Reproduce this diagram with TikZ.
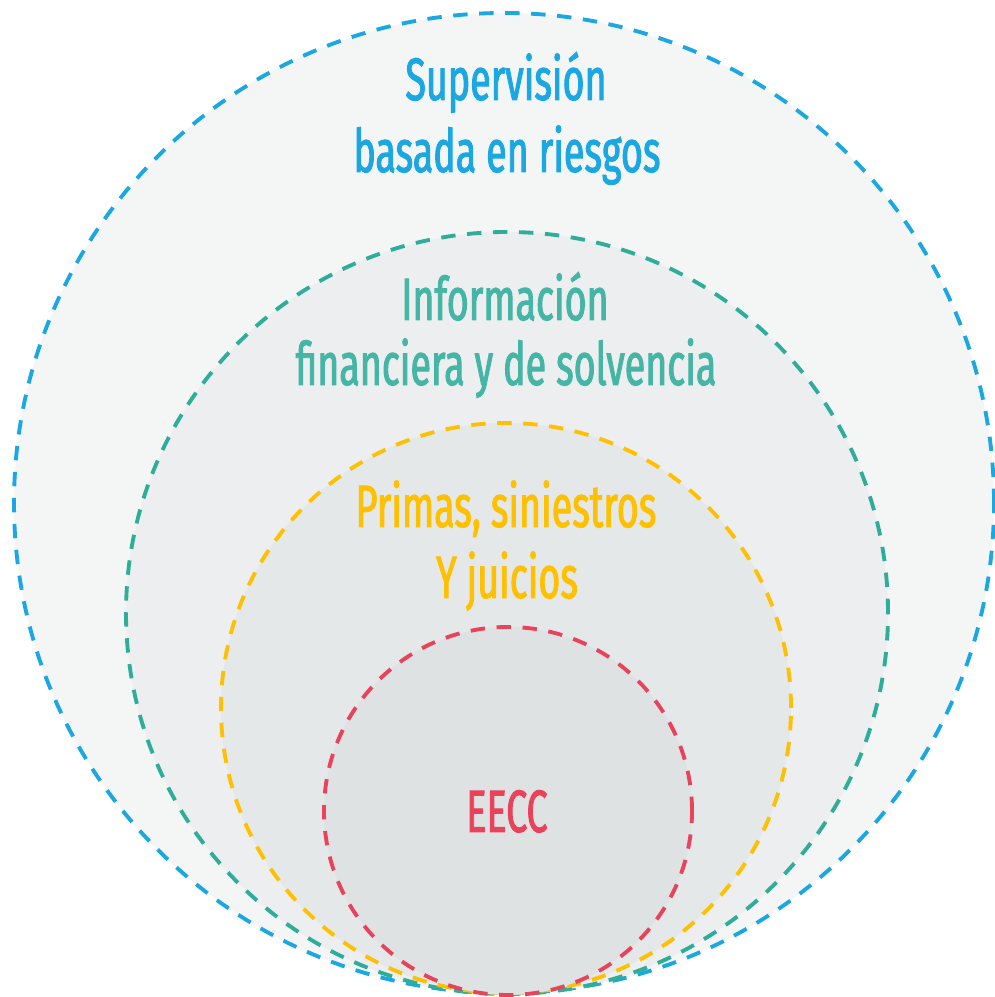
\documentclass[tikz,border=0pt]{standalone}
\usepackage{fontspec}
\newfontfamily\lblfont[FakeStretch=0.63,FakeBold=1.6]{Fira Sans}
\usetikzlibrary{positioning}
\definecolor{supblue}{HTML}{1AA7E2}
\definecolor{infgreen}{HTML}{2EAD98}
\definecolor{infgreentxt}{HTML}{45B5A5}
\definecolor{primyellow}{HTML}{FFC000}
\definecolor{eeccred}{HTML}{E8435A}
\definecolor{fillA}{HTML}{F4F6F6}
\definecolor{fillB}{HTML}{ECEEEF}
\definecolor{fillC}{HTML}{E5E8E9}
\definecolor{fillD}{HTML}{DFE2E3}
\tikzstyle{every node}=[font=\lblfont\fontsize{17}{20}\selectfont,inner sep=0pt]
\tikzstyle{ring}=[line width=1.1pt,dash pattern=on 4.1pt off 3.3pt]
\tikzstyle{lbl}=[anchor=base]

\begin{document}
\begin{tikzpicture}
  \useasboundingbox (0,0) rectangle (9.94,9.97);
  \filldraw[ring,fill=fillA,draw=supblue] (5.04,4.94) circle(4.90);
  \filldraw[ring,fill=fillB,draw=infgreen] (5.07,3.84) circle(3.81);
  \filldraw[ring,fill=fillC,draw=primyellow] (5.06,2.89) circle(2.85);
  \filldraw[ring,fill=fillD,draw=eeccred] (5.08,1.86) circle(1.84);
  % labels
  \node[lbl,text=supblue] (sup1) at (5.06,8.97) {Supervisión};
  \node[lbl,text=supblue] (sup2) at (5.07,8.25) {basada en riesgos};
  \node[lbl,text=infgreentxt] (inf1) at (5.05,6.77) {Información};
  \node[lbl,text=infgreentxt] (inf2) at (5.06,6.12) {financiera y de solvencia};
  \node[lbl,text=primyellow] (prim1) at (5.06,4.70) {Primas, siniestros};
  \node[lbl,text=primyellow] (prim2) at (5.07,3.99) {Y juicios};
  \node[lbl,text=eeccred] (eecc) at (5.07,1.65) {EECC};
\end{tikzpicture}
\end{document}
